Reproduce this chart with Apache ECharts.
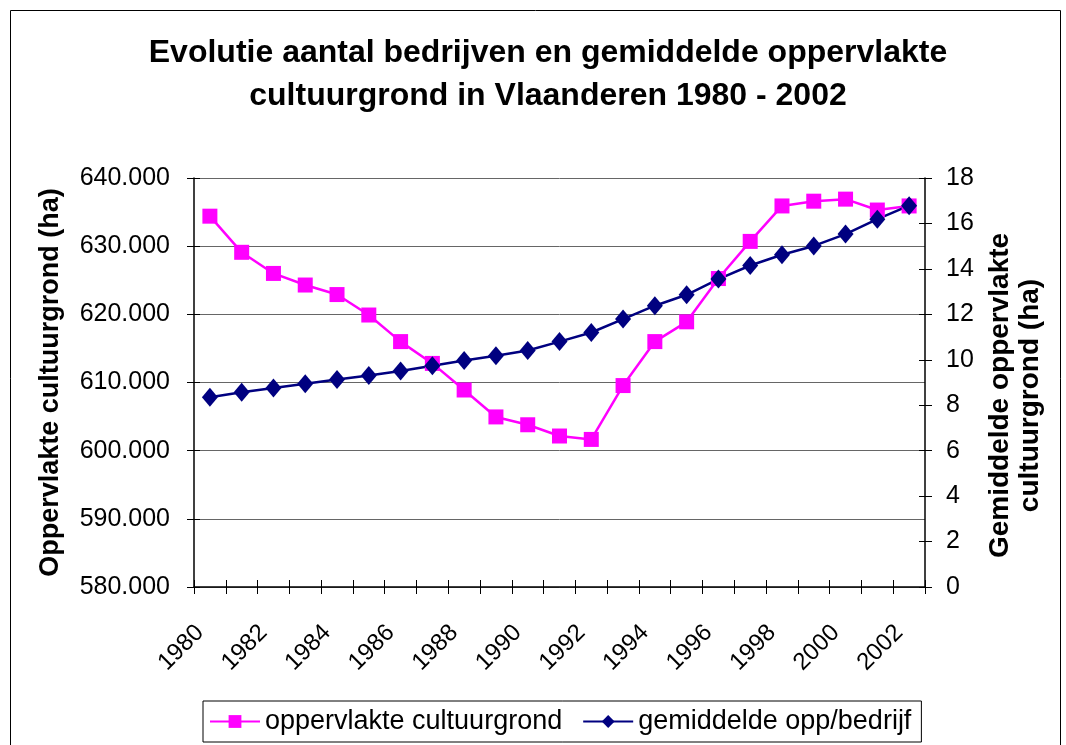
<!DOCTYPE html>
<html>
<head>
<meta charset="utf-8">
<script src="https://cdn.jsdelivr.net/npm/echarts@6/dist/echarts.min.js"></script>
<style>
  html, body { margin: 0; padding: 0; background: #fff; }
  #main { width: 1066px; height: 745px; }
</style>
</head>
<body>
<div id="main"></div>
<script>
var years = ['1980','1981','1982','1983','1984','1985','1986','1987','1988','1989','1990','1991',
  '1992','1993','1994','1995','1996','1997','1998','1999','2000','2001','2002'];
var oppervlakte = [634400, 629100, 626000, 624300, 622900, 619900, 616000, 612800, 608900, 604950, 603800, 602150,
  601650, 609550, 616000, 618900, 625250, 630700, 635900, 636600, 636900, 635300, 635900];
var gemiddelde = [8.35, 8.57, 8.76, 8.94, 9.13, 9.31, 9.51, 9.74, 9.97, 10.18, 10.41, 10.80,
  11.20, 11.79, 12.38, 12.86, 13.55, 14.15, 14.62, 15.01, 15.53, 16.19, 16.78];

var font = 'Liberation Sans, Arial, sans-serif';

function dotThousands(v) {
  return String(v).replace(/\B(?=(\d{3})+(?!\d))/g, '.');
}

// extra axes only draw the inner half of the crossing tick marks
function innerTicks(extra) {
  return Object.assign({
    axisLine: { show: false },
    axisLabel: { show: false },
    splitLine: { show: false },
    axisTick: { show: true, inside: true, length: 6, lineStyle: { color: '#000' } }
  }, extra);
}

var myChart = echarts.init(document.getElementById('main'));
myChart.setOption({
  animation: false,
  backgroundColor: '#fff',
  textStyle: { fontFamily: font, color: '#000' },
  title: {
    text: 'Evolutie aantal bedrijven en gemiddelde oppervlakte\ncultuurgrond in Vlaanderen 1980 - 2002',
    left: 543,
    textAlign: 'center',
    top: 27,
    textStyle: { fontFamily: font, fontSize: 32, fontWeight: 'bold', color: '#000', lineHeight: 43 }
  },
  graphic: [{
    type: 'rect',
    shape: { x: 10.5, y: 10.5, width: 1050, height: 760 },
    style: { fill: 'none', stroke: '#000', lineWidth: 1 },
    silent: true
  }],
  legend: {
    left: 203,
    top: 701,
    padding: [7, 10, 7, 6],
    itemGap: 20,
    itemWidth: 50,
    itemHeight: 16,
    borderColor: '#000',
    borderWidth: 1,
    textStyle: { fontFamily: font, fontSize: 27, color: '#000' },
    data: ['oppervlakte cultuurgrond', 'gemiddelde opp/bedrijf']
  },
  grid: { left: 194, right: 141, top: 178, bottom: 158 },
  xAxis: [{
    type: 'category',
    data: years,
    boundaryGap: true,
    axisLine: { lineStyle: { color: '#000', width: 1.5 } },
    axisTick: { show: true, length: 7, interval: 0, lineStyle: { color: '#000' } },
    axisLabel: {
      interval: 1,
      rotate: 45,
      fontSize: 24,
      fontFamily: font,
      color: '#000',
      margin: 32,
      padding: [0, 14, 0, 0]
    },
    splitLine: { show: false }
  }, innerTicks({
    type: 'category',
    data: years,
    boundaryGap: true,
    position: 'bottom',
    axisTick: { show: true, inside: true, length: 7, interval: 0, lineStyle: { color: '#000' } }
  })],
  yAxis: [{
    type: 'value',
    min: 580000,
    max: 640000,
    interval: 10000,
    name: 'Oppervlakte cultuurgrond (ha)',
    nameLocation: 'middle',
    nameGap: 130,
    nameTextStyle: { fontFamily: font, fontSize: 27, fontWeight: 'bold', color: '#000' },
    axisLine: { show: true, lineStyle: { color: '#000', width: 1.5 } },
    axisTick: { show: true, length: 7, lineStyle: { color: '#000' } },
    axisLabel: {
      fontSize: 25,
      fontFamily: font,
      color: '#000',
      margin: 24,
      formatter: dotThousands
    },
    splitLine: { show: true, lineStyle: { color: '#666', width: 1 } }
  }, {
    type: 'value',
    min: 0,
    max: 18,
    interval: 2,
    position: 'right',
    name: 'Gemiddelde oppervlakte\ncultuurgrond (ha)',
    nameLocation: 'middle',
    nameRotate: 90,
    nameGap: 60,
    nameTextStyle: {
      fontFamily: font, fontSize: 28, fontWeight: 'bold', color: '#000',
      lineHeight: 30, padding: [0, 26, 0, 0]
    },
    axisLine: { show: true, lineStyle: { color: '#000', width: 1.5 } },
    axisTick: { show: true, length: 7, lineStyle: { color: '#000' } },
    axisLabel: { fontSize: 25, fontFamily: font, color: '#000', margin: 21 },
    splitLine: { show: false }
  }, innerTicks({
    type: 'value', min: 0, max: 18, interval: 2, position: 'right'
  }), innerTicks({
    type: 'value', min: 580000, max: 640000, interval: 10000, position: 'left'
  })],
  series: [{
    name: 'oppervlakte cultuurgrond',
    type: 'line',
    yAxisIndex: 0,
    data: oppervlakte,
    symbol: 'rect',
    symbolSize: 15,
    color: '#FF00FF',
    lineStyle: { color: '#FF00FF', width: 2.5 },
    itemStyle: { color: '#FF00FF' }
  }, {
    name: 'gemiddelde opp/bedrijf',
    type: 'line',
    yAxisIndex: 1,
    data: gemiddelde,
    symbol: 'diamond',
    symbolSize: [16, 19],
    color: '#000080',
    lineStyle: { color: '#000080', width: 2.5 },
    itemStyle: { color: '#000080' }
  }]
});
</script>
</body>
</html>
